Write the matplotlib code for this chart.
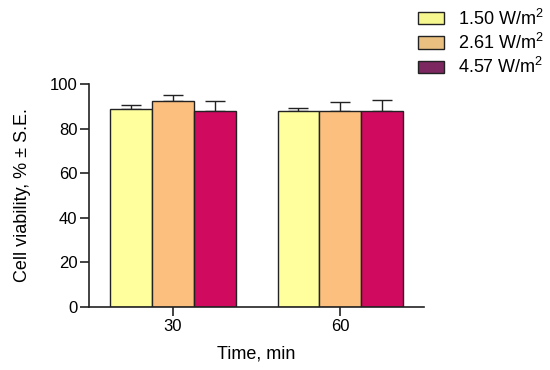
import numpy as np
import matplotlib
matplotlib.use("Agg")
import matplotlib.pyplot as plt
from matplotlib.patches import Patch

plt.rcParams['font.family'] = ['Liberation Sans', 'DejaVu Sans']
plt.rcParams['mathtext.default'] = 'regular'

times = ['30', '60']
labels = ['1.50 W/m$^2$', '2.61 W/m$^2$', '4.57 W/m$^2$']
means = [[89.0, 88.0],
         [92.6, 87.8],
         [88.0, 88.1]]
errs = [[1.4, 1.2],
        [2.5, 4.2],
        [4.2, 4.6]]
bar_colors = ['#FFFF9E', '#FDBF7E', '#D00A5F']
legend_colors = ['#F7F78F', '#E9C07F', '#7C2760']

fig = plt.figure(figsize=(5.5, 3.7), dpi=100)
ax = fig.add_axes([0.162, 0.170, 0.609, 0.603])

x = np.arange(len(times))
w = 0.25
for i in range(3):
    ax.bar(x + (i - 1) * w, means[i], w, color=bar_colors[i],
           edgecolor='#222222', linewidth=1.0, zorder=2)
    ax.errorbar(x + (i - 1) * w, means[i], yerr=[np.zeros(2), errs[i]],
                fmt='none', ecolor='#222222', elinewidth=1.0,
                capsize=7.5, capthick=1.0, zorder=1)

ax.set_xlim(-0.5, 1.5)
ax.set_ylim(0, 100)
ax.set_yticks(range(0, 101, 20))
ax.set_xticks(x)
ax.set_xticklabels(times)
ax.spines['top'].set_visible(False)
ax.spines['right'].set_visible(False)
for s in ['left', 'bottom']:
    ax.spines[s].set_linewidth(1.2)
    ax.spines[s].set_color('#222222')
ax.tick_params(axis='both', labelsize=12, length=6.5, width=1.2,
               color='#222222', pad=2)
ax.set_ylabel('Cell viability, % ± S.E.', fontsize=13, labelpad=13)
ax.set_xlabel('Time, min', fontsize=13, labelpad=8)

handles = [Patch(facecolor=legend_colors[i], edgecolor='#222222', linewidth=1.0)
           for i in range(3)]
fig.legend(handles, labels, loc='upper left', bbox_to_anchor=(0.76, 0.977),
           frameon=False, fontsize=13, handlelength=1.45, handleheight=0.66,
           labelspacing=0.23, handletextpad=0.78, borderpad=0, borderaxespad=0)

fig.savefig('out.png', dpi=100)
